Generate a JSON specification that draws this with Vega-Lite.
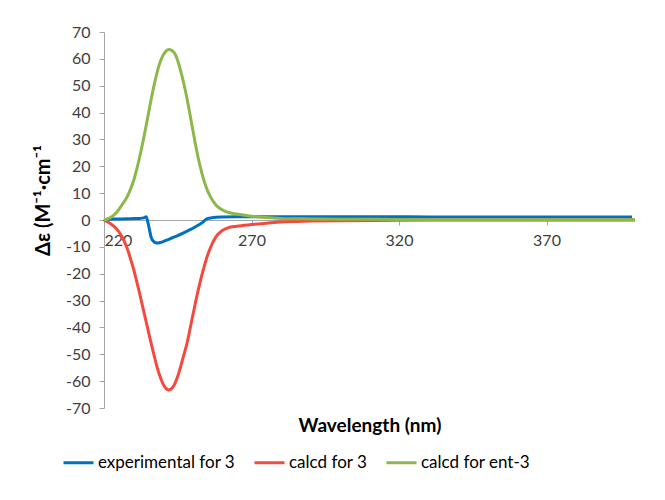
{
  "$schema": "https://vega.github.io/schema/vega-lite/v6.json",
  "width": 531,
  "height": 376,
  "autosize": "none",
  "padding": {"left": 104, "top": 32, "right": 30, "bottom": 92},
  "background": "white",
  "config": {"view": {"stroke": null}, "font": "Lato"},
  "data": {"values": [
    {"series": "experimental for 3", "nm": 220, "de": -0.5},
    {"series": "experimental for 3", "nm": 221, "de": 0.2},
    {"series": "experimental for 3", "nm": 223, "de": 0.4},
    {"series": "experimental for 3", "nm": 226, "de": 0.4},
    {"series": "experimental for 3", "nm": 229, "de": 0.5},
    {"series": "experimental for 3", "nm": 232, "de": 0.6},
    {"series": "experimental for 3", "nm": 233.5, "de": 0.8},
    {"series": "experimental for 3", "nm": 234.3, "de": 1.2},
    {"series": "experimental for 3", "nm": 234.8, "de": -0.5},
    {"series": "experimental for 3", "nm": 235.3, "de": -3},
    {"series": "experimental for 3", "nm": 236, "de": -6.5},
    {"series": "experimental for 3", "nm": 237, "de": -8.2},
    {"series": "experimental for 3", "nm": 238, "de": -8.6},
    {"series": "experimental for 3", "nm": 239, "de": -8.4},
    {"series": "experimental for 3", "nm": 241, "de": -7.6},
    {"series": "experimental for 3", "nm": 243, "de": -6.7},
    {"series": "experimental for 3", "nm": 245, "de": -5.8},
    {"series": "experimental for 3", "nm": 247, "de": -4.8},
    {"series": "experimental for 3", "nm": 249, "de": -3.7},
    {"series": "experimental for 3", "nm": 251, "de": -2.5},
    {"series": "experimental for 3", "nm": 253, "de": -1.2},
    {"series": "experimental for 3", "nm": 255, "de": 0.5},
    {"series": "experimental for 3", "nm": 257, "de": 0.9},
    {"series": "experimental for 3", "nm": 260, "de": 1.1},
    {"series": "experimental for 3", "nm": 265, "de": 1.2},
    {"series": "experimental for 3", "nm": 270, "de": 1.2},
    {"series": "experimental for 3", "nm": 280, "de": 1.2},
    {"series": "experimental for 3", "nm": 300, "de": 1.2},
    {"series": "experimental for 3", "nm": 320, "de": 1.2},
    {"series": "experimental for 3", "nm": 340, "de": 1.1},
    {"series": "experimental for 3", "nm": 360, "de": 1.1},
    {"series": "experimental for 3", "nm": 380, "de": 1.1},
    {"series": "experimental for 3", "nm": 399, "de": 1.1},

    {"series": "calcd for 3", "nm": 220, "de": 0},
    {"series": "calcd for 3", "nm": 222, "de": -1.2},
    {"series": "calcd for 3", "nm": 224, "de": -3},
    {"series": "calcd for 3", "nm": 226, "de": -6},
    {"series": "calcd for 3", "nm": 228, "de": -11},
    {"series": "calcd for 3", "nm": 229, "de": -14.5},
    {"series": "calcd for 3", "nm": 230, "de": -18.2},
    {"series": "calcd for 3", "nm": 231, "de": -22.5},
    {"series": "calcd for 3", "nm": 232, "de": -27},
    {"series": "calcd for 3", "nm": 233, "de": -31.8},
    {"series": "calcd for 3", "nm": 234, "de": -36.5},
    {"series": "calcd for 3", "nm": 235, "de": -41.3},
    {"series": "calcd for 3", "nm": 236, "de": -46},
    {"series": "calcd for 3", "nm": 237, "de": -50.5},
    {"series": "calcd for 3", "nm": 238, "de": -54.8},
    {"series": "calcd for 3", "nm": 239, "de": -58.3},
    {"series": "calcd for 3", "nm": 240, "de": -61},
    {"series": "calcd for 3", "nm": 241, "de": -62.7},
    {"series": "calcd for 3", "nm": 242, "de": -63.3},
    {"series": "calcd for 3", "nm": 243, "de": -62.7},
    {"series": "calcd for 3", "nm": 244, "de": -61},
    {"series": "calcd for 3", "nm": 245, "de": -58.2},
    {"series": "calcd for 3", "nm": 246, "de": -54.5},
    {"series": "calcd for 3", "nm": 247, "de": -50.5},
    {"series": "calcd for 3", "nm": 248, "de": -46.5},
    {"series": "calcd for 3", "nm": 249, "de": -41.5},
    {"series": "calcd for 3", "nm": 250, "de": -36},
    {"series": "calcd for 3", "nm": 251, "de": -30.8},
    {"series": "calcd for 3", "nm": 252, "de": -25.8},
    {"series": "calcd for 3", "nm": 253, "de": -21.3},
    {"series": "calcd for 3", "nm": 254, "de": -17.2},
    {"series": "calcd for 3", "nm": 255, "de": -13.5},
    {"series": "calcd for 3", "nm": 256, "de": -10.5},
    {"series": "calcd for 3", "nm": 258, "de": -6.2},
    {"series": "calcd for 3", "nm": 260, "de": -4},
    {"series": "calcd for 3", "nm": 262, "de": -2.9},
    {"series": "calcd for 3", "nm": 265, "de": -2.3},
    {"series": "calcd for 3", "nm": 270, "de": -1.7},
    {"series": "calcd for 3", "nm": 275, "de": -1.2},
    {"series": "calcd for 3", "nm": 280, "de": -0.7},
    {"series": "calcd for 3", "nm": 290, "de": -0.4},
    {"series": "calcd for 3", "nm": 300, "de": -0.25},
    {"series": "calcd for 3", "nm": 320, "de": -0.1},
    {"series": "calcd for 3", "nm": 340, "de": 0},
    {"series": "calcd for 3", "nm": 360, "de": 0},
    {"series": "calcd for 3", "nm": 380, "de": 0},
    {"series": "calcd for 3", "nm": 400, "de": 0},

    {"series": "calcd for ent-3", "nm": 220, "de": 0},
    {"series": "calcd for ent-3", "nm": 222, "de": 0.8},
    {"series": "calcd for ent-3", "nm": 224, "de": 2.5},
    {"series": "calcd for ent-3", "nm": 226, "de": 5.5},
    {"series": "calcd for ent-3", "nm": 228, "de": 9},
    {"series": "calcd for ent-3", "nm": 229, "de": 11.5},
    {"series": "calcd for ent-3", "nm": 230, "de": 14.5},
    {"series": "calcd for ent-3", "nm": 231, "de": 18.5},
    {"series": "calcd for ent-3", "nm": 232, "de": 23},
    {"series": "calcd for ent-3", "nm": 233, "de": 28},
    {"series": "calcd for ent-3", "nm": 234, "de": 33.5},
    {"series": "calcd for ent-3", "nm": 235, "de": 39.3},
    {"series": "calcd for ent-3", "nm": 236, "de": 45},
    {"series": "calcd for ent-3", "nm": 237, "de": 50.3},
    {"series": "calcd for ent-3", "nm": 238, "de": 55},
    {"series": "calcd for ent-3", "nm": 239, "de": 58.7},
    {"series": "calcd for ent-3", "nm": 240, "de": 61.3},
    {"series": "calcd for ent-3", "nm": 241, "de": 62.9},
    {"series": "calcd for ent-3", "nm": 242, "de": 63.5},
    {"series": "calcd for ent-3", "nm": 243, "de": 63.1},
    {"series": "calcd for ent-3", "nm": 244, "de": 62},
    {"series": "calcd for ent-3", "nm": 245, "de": 59.3},
    {"series": "calcd for ent-3", "nm": 246, "de": 55.5},
    {"series": "calcd for ent-3", "nm": 247, "de": 51},
    {"series": "calcd for ent-3", "nm": 248, "de": 46},
    {"series": "calcd for ent-3", "nm": 249, "de": 40.2},
    {"series": "calcd for ent-3", "nm": 250, "de": 34.2},
    {"series": "calcd for ent-3", "nm": 251, "de": 28.2},
    {"series": "calcd for ent-3", "nm": 252, "de": 22.8},
    {"series": "calcd for ent-3", "nm": 253, "de": 18.2},
    {"series": "calcd for ent-3", "nm": 254, "de": 14.3},
    {"series": "calcd for ent-3", "nm": 255, "de": 11.2},
    {"series": "calcd for ent-3", "nm": 256, "de": 8.8},
    {"series": "calcd for ent-3", "nm": 258, "de": 5.5},
    {"series": "calcd for ent-3", "nm": 260, "de": 3.8},
    {"series": "calcd for ent-3", "nm": 262, "de": 2.9},
    {"series": "calcd for ent-3", "nm": 265, "de": 2.2},
    {"series": "calcd for ent-3", "nm": 270, "de": 1.4},
    {"series": "calcd for ent-3", "nm": 275, "de": 0.9},
    {"series": "calcd for ent-3", "nm": 280, "de": 0.6},
    {"series": "calcd for ent-3", "nm": 290, "de": 0.4},
    {"series": "calcd for ent-3", "nm": 300, "de": 0.3},
    {"series": "calcd for ent-3", "nm": 320, "de": 0.2},
    {"series": "calcd for ent-3", "nm": 340, "de": 0.1},
    {"series": "calcd for ent-3", "nm": 360, "de": 0.1},
    {"series": "calcd for ent-3", "nm": 380, "de": 0.1},
    {"series": "calcd for ent-3", "nm": 400, "de": 0.1}
  ]},
  "mark": {"type": "line", "strokeWidth": 3, "interpolate": "monotone"},
  "encoding": {
    "x": {
      "field": "nm", "type": "quantitative",
      "scale": {"domain": [220, 400], "nice": false, "zero": false},
      "axis": {
        "values": [220, 270, 320, 370],
        "offset": -188,
        "grid": false,
        "domainColor": "#a6a6a6",
        "tickColor": "#a6a6a6",
        "tickSize": 5,
        "labelFontSize": 16,
        "labelColor": "#404040",
        "labelPadding": 7,
        "title": "Wavelength (nm)",
        "titleFontSize": 19,
        "titleFontWeight": "bold",
        "titleColor": "#000000",
        "titleY": 205,
        "titleBaseline": "middle"
      }
    },
    "y": {
      "field": "de", "type": "quantitative",
      "scale": {"domain": [-70, 70], "nice": false},
      "axis": {
        "values": [-70, -60, -50, -40, -30, -20, -10, 0, 10, 20, 30, 40, 50, 60, 70],
        "grid": false,
        "domainColor": "#a6a6a6",
        "tickColor": "#a6a6a6",
        "tickSize": 5,
        "labelFontSize": 16,
        "labelColor": "#404040",
        "labelPadding": 9,
        "labelExpr": "'' + datum.value",
        "title": "Δε (M⁻¹·cm⁻¹",
        "titleFontSize": 20,
        "titleFontWeight": "bold",
        "titleColor": "#000000",
        "titleAngle": -90,
        "titleX": -61,
        "titleY": 168,
        "titleAlign": "center",
        "titleBaseline": "middle"
      }
    },
    "color": {
      "field": "series", "type": "nominal",
      "scale": {
        "domain": ["experimental for 3", "calcd for 3", "calcd for ent-3"],
        "range": ["#0070C0", "#F5493D", "#8CB84A"]
      },
      "legend": {
        "orient": "none",
        "legendX": -42,
        "legendY": 414,
        "direction": "horizontal",
        "title": null,
        "symbolType": "stroke",
        "symbolSize": 900,
        "symbolStrokeWidth": 3,
        "labelFontSize": 17,
        "labelColor": "#000000",
        "labelOffset": 3,
        "columnPadding": 12
      }
    }
  }
}
